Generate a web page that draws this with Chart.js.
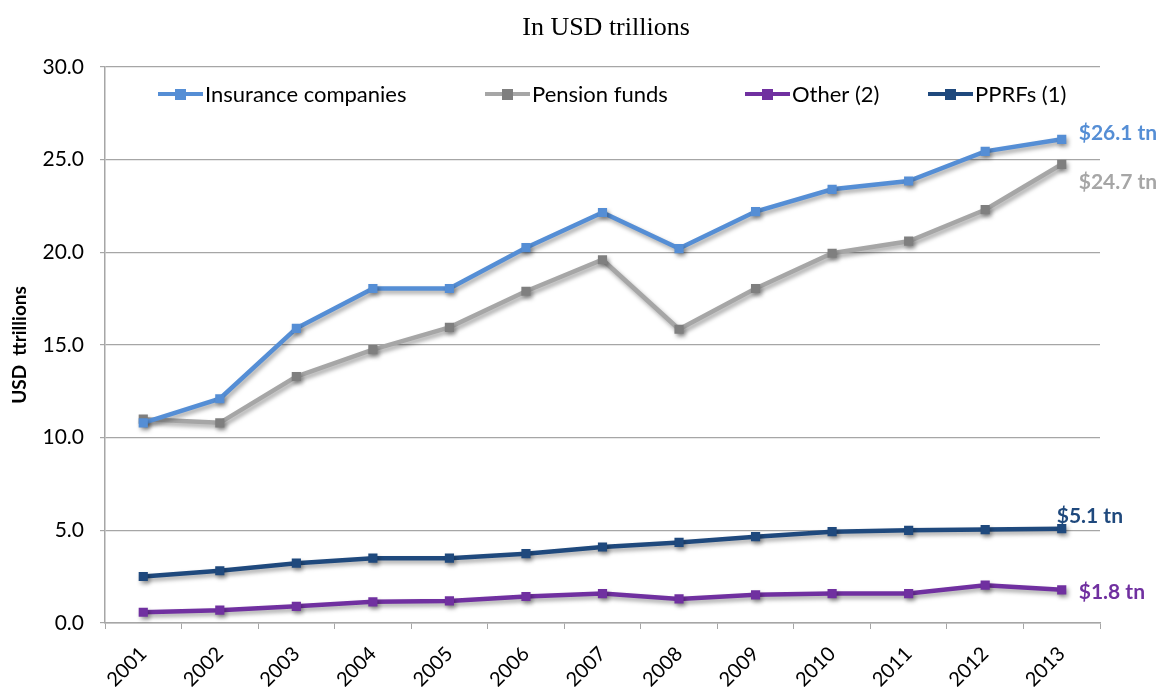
<!DOCTYPE html>
<html>
<head>
<meta charset="utf-8">
<script src="https://cdn.jsdelivr.net/npm/chart.js@4.4.1/dist/chart.umd.min.js"></script>
<style>
    html, body { margin: 0; padding: 0; background: #fff; }
    #wrap { width: 1164px; height: 689px; }
</style>
</head>
<body>
<div id="wrap"><canvas id="assetsChart" width="1164" height="689"></canvas></div>
<script>
// Data (USD trillions)
const years = ['2001', '2002', '2003', '2004', '2005', '2006', '2007', '2008', '2009', '2010', '2011', '2012', '2013'];
const insurance = [10.8, 12.1, 15.9, 18.05, 18.05, 20.25, 22.15, 20.2, 22.2, 23.4, 23.85, 25.45, 26.1];
const pension = [11.0, 10.8, 13.3, 14.75, 15.95, 17.9, 19.6, 15.85, 18.05, 19.95, 20.6, 22.3, 24.75];
const other = [0.58, 0.69, 0.9, 1.14, 1.19, 1.43, 1.59, 1.3, 1.52, 1.59, 1.59, 2.04, 1.79];
const pprfs = [2.51, 2.82, 3.23, 3.5, 3.5, 3.74, 4.1, 4.35, 4.66, 4.93, 5.0, 5.04, 5.09];
const seriesNames = ['Insurance companies', 'Pension funds', 'Other (2)', 'PPRFs (1)'];
const endLabels = ['$26.1 tn', '$24.7 tn', '$1.8 tn', '$5.1 tn'];
const yTicks = [0, 5, 10, 15, 20, 25, 30];
const chartTitle = 'In USD trillions';

const FONT = 'Lato, "Open Sans", sans-serif';

// title sits a bit right of the canvas centre, so draw it by hand
const titlePlugin = {
    id: 'pageTitle',
    afterDraw(chart) {
        const ctx = chart.ctx;
        ctx.save();
        ctx.fillStyle = '#000';
        ctx.font = '26px "Liberation Serif", "Times New Roman", serif';
        ctx.textAlign = 'center';
        ctx.textBaseline = 'middle';
        ctx.fillText(chartTitle, 606, 28);
        ctx.restore();
    }
};

// lines have a soft drop shadow like the original
const shadowPlugin = {
    id: 'shadow',
    beforeDatasetsDraw(chart) {
        const ctx = chart.ctx;
        ctx.save();
        ctx.shadowColor = 'rgba(0, 0, 0, 0.35)';
        ctx.shadowBlur = 4;
        ctx.shadowOffsetX = 2;
        ctx.shadowOffsetY = 3;
    },
    afterDatasetsDraw(chart) {
        chart.ctx.restore();
    }
};

// legend drawn inside the plot area, top row
const legendSlots = [158, 485, 745, 928];
const insideLegend = {
    id: 'insideLegend',
    afterDraw(chart) {
        const ctx = chart.ctx;
        const y = chart.chartArea.top + 27;
        ctx.save();
        chart.data.datasets.forEach((ds, i) => {
            const x = legendSlots[i];
            ctx.strokeStyle = ds.borderColor;
            ctx.lineWidth = 4;
            ctx.beginPath();
            ctx.moveTo(x, y);
            ctx.lineTo(x + 45, y);
            ctx.stroke();
            ctx.fillStyle = ds.pointBackgroundColor;
            ctx.fillRect(x + 17, y - 5, 11, 11);
            ctx.fillStyle = '#000';
            ctx.font = '22px ' + FONT;
            ctx.textBaseline = 'middle';
            ctx.fillText(ds.label, x + 47, y + 1);
        });
        ctx.restore();
    }
};

// value labels next to the last point of every line
const labelOffsets = [[17, -6], [17, 18], [17, 2], [-5, -12]];
const endLabelPlugin = {
    id: 'endLabels',
    afterDatasetsDraw(chart) {
        const ctx = chart.ctx;
        ctx.save();
        chart.data.datasets.forEach((ds, i) => {
            const meta = chart.getDatasetMeta(i);
            const pt = meta.data[meta.data.length - 1];
            ctx.fillStyle = ds.labelColor;
            ctx.font = 'bold 21px ' + FONT;
            ctx.textBaseline = 'middle';
            ctx.fillText(endLabels[i], pt.x + labelOffsets[i][0], pt.y + labelOffsets[i][1]);
        });
        ctx.restore();
    }
};

function lineSet(label, data, lineColor, markColor, labelColor) {
    return {
        label: label,
        data: data,
        borderColor: lineColor,
        backgroundColor: markColor,
        pointBackgroundColor: markColor,
        pointBorderColor: markColor,
        labelColor: labelColor,
        borderWidth: 4.5,
        pointStyle: 'rect',
        pointRadius: 6.5,
        pointBorderWidth: 0,
        tension: 0,
        fill: false
    };
}

const ctx = document.getElementById('assetsChart').getContext('2d');
new Chart(ctx, {
    type: 'line',
    data: {
        labels: years,
        datasets: [
            lineSet(seriesNames[0], insurance, '#558ED5', '#558ED5', '#558ED5'),
            lineSet(seriesNames[1], pension, '#A6A6A6', '#7F7F7F', '#A6A6A6'),
            lineSet(seriesNames[2], other, '#7030A0', '#7030A0', '#7030A0'),
            lineSet(seriesNames[3], pprfs, '#1F497D', '#1F497D', '#1F497D')
        ]
    },
    options: {
        responsive: false,
        animation: false,
        layout: { padding: { left: 8, right: 64, top: 67, bottom: 2 } },
        plugins: {
            legend: { display: false },
            tooltip: { enabled: false },
            title: { display: false }
        },
        scales: {
            x: {
                offset: true,
                grid: { offset: true, drawOnChartArea: false, color: '#A6A6A6', tickLength: 6 },
                border: { color: '#A6A6A6', width: 1.5 },
                ticks: {
                    color: '#000',
                    font: { family: FONT, size: 20 },
                    maxRotation: 45,
                    minRotation: 45,
                    padding: 13
                },
                afterFit(scale) { scale.height = 64; }
            },
            y: {
                min: 0,
                max: 30,
                afterBuildTicks(scale) { scale.ticks = yTicks.map(v => ({ value: v })); },
                grid: { color: '#A6A6A6', lineWidth: 1.2, tickLength: 5 },
                border: { color: '#A6A6A6', width: 1.5 },
                ticks: {
                    color: '#000',
                    font: { family: FONT, size: 21 },
                    padding: 16,
                    callback: v => v.toFixed(1)
                },
                title: {
                    display: true,
                    text: 'USD  ttrillions',
                    color: '#000',
                    font: { family: FONT, size: 19, weight: 'bold' },
                    padding: { top: 0, bottom: 8 }
                },
                afterFit(scale) { scale.width = 97; }
            }
        }
    },
    plugins: [shadowPlugin, insideLegend, endLabelPlugin, titlePlugin]
});
</script>
</body>
</html>
